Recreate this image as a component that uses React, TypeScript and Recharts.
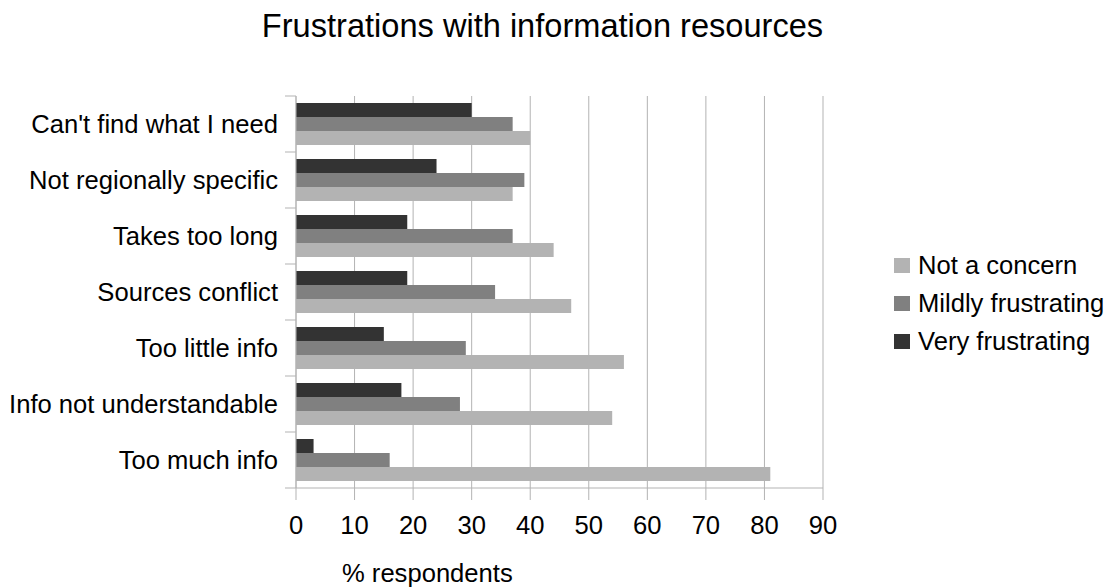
import { BarChart, Bar, XAxis, YAxis, CartesianGrid, Legend } from 'recharts';

const categories = [
  "Can't find what I need",
  'Not regionally specific',
  'Takes too long',
  'Sources conflict',
  'Too little info',
  'Info not understandable',
  'Too much info'
];

const veryFrustrating = [30, 24, 19, 19, 15, 18, 3];
const mildlyFrustrating = [37, 39, 37, 34, 29, 28, 16];
const notAConcern = [40, 37, 44, 47, 56, 54, 81];

const xTicks = [0, 10, 20, 30, 40, 50, 60, 70, 80, 90];

const series = [
  { key: 'notAConcern', name: 'Not a concern', color: '#b3b3b3' },
  { key: 'mildly', name: 'Mildly frustrating', color: '#808080' },
  { key: 'very', name: 'Very frustrating', color: '#333333' }
];

const data = categories.map((name, i) => ({
  name,
  very: veryFrustrating[i],
  mildly: mildlyFrustrating[i],
  notAConcern: notAConcern[i]
}));

const FONT = '"Liberation Sans", Arial, sans-serif';
const GRID = '#b3b3b3';
const TEXT_SIZE = 25.6;

const CHART_W = 1109;
const CHART_H = 587;
const MARGIN = { top: 96, right: 286, bottom: 0, left: 0 };
const X_AXIS_H = 99;
const Y_AXIS_W = 296;
const TICK_SIZE = 11;
const TICK_MARGIN = 7;
const BAND = (CHART_H - MARGIN.top - X_AXIS_H) / categories.length;

// category label plus tick marks on the band boundaries (not the band centre)
const CategoryTick = (props: any) => {
  const { x, y, payload, index } = props;
  const x1 = x + TICK_MARGIN;
  const x2 = x + TICK_MARGIN + TICK_SIZE;
  return (
    <g>
      <line x1={x1} x2={x2} y1={y - BAND / 2} y2={y - BAND / 2} stroke={GRID} />
      {index === categories.length - 1 && (
        <line x1={x1} x2={x2} y1={y + BAND / 2} y2={y + BAND / 2} stroke={GRID} />
      )}
      <text x={x} y={y} dy="0.355em" textAnchor="end" fill="#000" fontSize={TEXT_SIZE} fontFamily={FONT}>
        {payload.value}
      </text>
    </g>
  );
};

const LegendList = () => (
  <div style={{ fontFamily: FONT, fontSize: TEXT_SIZE, color: '#000' }}>
    {series.map((s) => (
      <div key={s.key} style={{ display: 'flex', alignItems: 'center', height: 38 }}>
        <span style={{ width: 16, height: 15, background: s.color, marginRight: 8, display: 'inline-block' }} />
        <span>{s.name}</span>
      </div>
    ))}
  </div>
);

const AxisTitle = (props: any) => {
  const { viewBox } = props;
  return (
    <text x={viewBox.x + 46} y={viewBox.y + 94} fontSize={TEXT_SIZE} fontFamily={FONT} fill="#000">
      % respondents
    </text>
  );
};

export default function App() {
  return (
    <div style={{ position: 'absolute', left: 0, top: 0, width: CHART_W, height: CHART_H, background: '#fff' }}>
      <div
        style={{
          position: 'absolute',
          left: 0,
          top: 9,
          width: 1085,
          textAlign: 'center',
          fontFamily: FONT,
          fontSize: 32.6,
          lineHeight: '33px',
          color: '#000'
        }}
      >
        Frustrations with information resources
      </div>
      <BarChart
        width={CHART_W}
        height={CHART_H}
        data={data}
        layout="vertical"
        margin={MARGIN}
        barCategoryGap="12.5%"
        barGap={0}
      >
        <CartesianGrid horizontal={false} stroke={GRID} strokeWidth={1} />
        <YAxis
          type="category"
          dataKey="name"
          width={Y_AXIS_W}
          tickLine={false}
          tickSize={TICK_SIZE}
          tickMargin={TICK_MARGIN}
          axisLine={{ stroke: GRID }}
          tick={<CategoryTick />}
          interval={0}
        />
        <XAxis
          type="number"
          domain={[0, 90]}
          ticks={xTicks}
          height={X_AXIS_H}
          tickSize={12}
          tickMargin={16}
          axisLine={{ stroke: GRID }}
          tickLine={{ stroke: GRID }}
          tick={{ fill: '#000', fontSize: TEXT_SIZE, fontFamily: FONT }}
          label={<AxisTitle />}
        />
        <Legend
          layout="horizontal"
          align="center"
          verticalAlign="middle"
          content={() => <LegendList />}
          wrapperStyle={{ left: 894, top: 246, width: 215 }}
        />
        <Bar dataKey="very" name="Very frustrating" fill="#333333" isAnimationActive={false} />
        <Bar dataKey="mildly" name="Mildly frustrating" fill="#808080" isAnimationActive={false} />
        <Bar dataKey="notAConcern" name="Not a concern" fill="#b3b3b3" isAnimationActive={false} />
      </BarChart>
    </div>
  );
}
